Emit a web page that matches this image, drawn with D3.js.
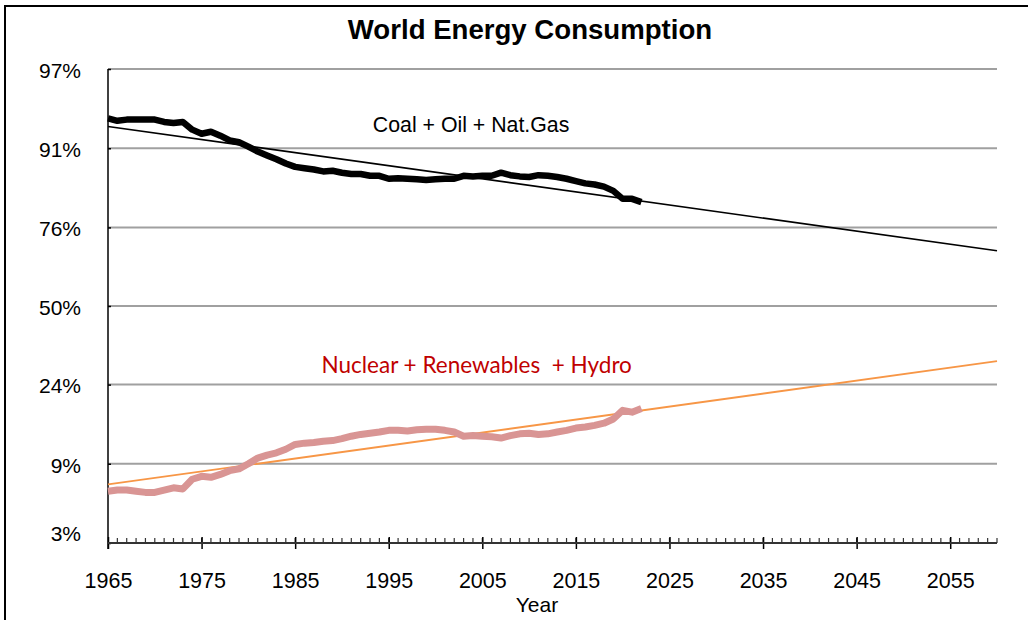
<!DOCTYPE html>
<html>
<head>
<meta charset="utf-8">
<script src="https://cdn.jsdelivr.net/npm/d3@7"></script>
<style>
  body { margin: 0; background: #fff; }
  svg { display: block; }
</style>
</head>
<body>
<script>
// share of world primary energy, percent, 1965..2022
var years = d3.range(1965, 2023);

var fossil = [94.0, 93.8, 93.9, 93.9, 93.9, 93.9, 93.7, 93.6, 93.7, 93.0,
              92.6, 92.8, 92.4, 91.9, 91.7, 91.2, 90.6, 90.1, 89.6, 89.0,
              88.5, 88.3, 88.1, 87.8, 87.9, 87.6, 87.4, 87.4, 87.1, 87.1,
              86.6, 86.7, 86.6, 86.5, 86.4, 86.5, 86.6, 86.6, 87.1, 87.0,
              87.1, 87.1, 87.6, 87.2, 87.0, 86.9, 87.2, 87.1, 86.9, 86.6,
              86.2, 85.8, 85.6, 85.2, 84.4, 82.8, 82.8, 82.1];

var other = [6.2, 6.3, 6.3, 6.2, 6.1, 6.1, 6.3, 6.5, 6.4, 7.3,
             7.6, 7.5, 7.8, 8.2, 8.4, 9.0, 9.7, 10.1, 10.4, 10.9,
             11.6, 11.8, 11.9, 12.1, 12.2, 12.5, 12.9, 13.2, 13.4, 13.6,
             13.9, 13.9, 13.8, 14.0, 14.1, 14.1, 13.9, 13.6, 12.9, 13.0,
             12.9, 12.8, 12.6, 13.0, 13.3, 13.4, 13.2, 13.3, 13.6, 13.9,
             14.3, 14.5, 14.8, 15.2, 16.0, 17.8, 17.4, 18.2];

// trend lines (straight on the logit scale)
var trendYears = [1965, 2060];
var fossilTrend = [93.3, 69.2];
var otherTrend = [6.8, 30.8];

var yTicks = [3, 9, 24, 50, 76, 91, 97];
var yTickLabels = ["3%", "9%", "24%", "50%", "76%", "91%", "97%"];
var xTicks = [1965, 1975, 1985, 1995, 2005, 2015, 2025, 2035, 2045, 2055];

var width = 1028, height = 620;
var font = "'Liberation Sans', Arial, sans-serif";

var logit = function(p) { return Math.log(p / (100 - p)); };

var x = d3.scaleLinear().domain([1965, 2060]).range([108, 997]);
var y = d3.scaleLinear().domain([logit(3), logit(97)]).range([543, 69]);

var svg = d3.select("body").append("svg")
    .attr("width", width)
    .attr("height", height)
    .style("font-family", font);

svg.append("rect")
    .attr("width", width).attr("height", height)
    .attr("fill", "#fff");

// chart frame (runs off the right and bottom edges)
svg.append("rect")
    .attr("x", 5).attr("y", 6)
    .attr("width", 1100).attr("height", 700)
    .attr("fill", "none")
    .attr("stroke", "#000")
    .attr("stroke-width", 2);

// gridlines
svg.append("g")
    .selectAll("line")
    .data(yTicks.slice(1))
    .enter().append("line")
    .attr("x1", x(1965)).attr("x2", x(2060))
    .attr("y1", function(d) { return y(logit(d)); })
    .attr("y2", function(d) { return y(logit(d)); })
    .attr("stroke", "#a0a0a0")
    .attr("stroke-width", 2);

// y axis
var yAxis = svg.append("g")
    .attr("transform", "translate(" + x(1965) + ",0)")
    .call(d3.axisLeft(y)
        .tickValues(yTicks.map(logit))
        .tickFormat(function(d, i) { return yTickLabels[i]; })
        .tickSize(7)
        .tickPadding(20));
yAxis.select(".domain").remove();
yAxis.selectAll(".tick line").attr("x2", 3).attr("stroke", "#000").attr("stroke-width", 1.5);
yAxis.selectAll(".tick text")
    .style("font-size", "21px")
    .style("font-family", font)
    .attr("fill", "#000")
    .attr("dy", function(d, i) { return i === 0 ? "-0.1em" : "0.4em"; });
yAxis.append("line")
    .attr("x1", 0).attr("x2", 0)
    .attr("y1", y(logit(97))).attr("y2", y(logit(3)) + 6)
    .attr("stroke", "#000").attr("stroke-width", 1.5);

// x axis, minor ticks every year
svg.append("g")
    .selectAll("line")
    .data(d3.range(1966, 2061))
    .enter().append("line")
    .attr("x1", function(d) { return x(d); })
    .attr("x2", function(d) { return x(d); })
    .attr("y1", y(logit(3)) - 5)
    .attr("y2", y(logit(3)))
    .attr("stroke", "#333")
    .attr("stroke-width", 1.2);

var xAxis = svg.append("g")
    .attr("transform", "translate(0," + y(logit(3)) + ")")
    .call(d3.axisBottom(x)
        .tickValues(xTicks)
        .tickFormat(d3.format("d"))
        .tickSize(6)
        .tickPadding(24));
xAxis.select(".domain").remove();
xAxis.selectAll(".tick line").attr("y1", -6).attr("stroke", "#000").attr("stroke-width", 1.5);
xAxis.selectAll(".tick text")
    .style("font-size", "21.5px")
    .style("font-family", font)
    .attr("fill", "#000");
xAxis.append("line")
    .attr("x1", x(1965)).attr("x2", x(2060))
    .attr("stroke", "#333").attr("stroke-width", 2);

// trend lines
var trend = d3.line()
    .x(function(d, i) { return x(trendYears[i]); })
    .y(function(d) { return y(logit(d)); });

svg.append("path")
    .attr("d", trend(fossilTrend))
    .attr("fill", "none")
    .attr("stroke", "#000")
    .attr("stroke-width", 1.6);

svg.append("path")
    .attr("d", trend(otherTrend))
    .attr("fill", "none")
    .attr("stroke", "#f79646")
    .attr("stroke-width", 1.8);

// data series
var line = d3.line()
    .x(function(d, i) { return x(years[i]); })
    .y(function(d) { return y(logit(d)); });

svg.append("path")
    .attr("d", line(other))
    .attr("fill", "none")
    .attr("stroke", "#d99594")
    .attr("stroke-width", 7)
    .attr("stroke-linejoin", "round");

svg.append("path")
    .attr("d", line(fossil))
    .attr("fill", "none")
    .attr("stroke", "#000")
    .attr("stroke-width", 6.5)
    .attr("stroke-linejoin", "round");

// labels
svg.append("text")
    .attr("x", x(2003.8)).attr("y", y(logit(92.8)))
    .attr("text-anchor", "middle")
    .style("font-size", "21.3px")
    .text("Coal + Oil + Nat.Gas");

svg.append("text")
    .attr("x", x(2004.4)).attr("y", y(logit(27.2)))
    .attr("text-anchor", "middle")
    .style("font-family", "Lato, 'Open Sans', sans-serif")
    .style("font-size", "22.5px")
    .attr("fill", "#c00000")
    .attr("xml:space", "preserve")
    .text("Nuclear + Renewables  + Hydro");

svg.append("text")
    .attr("x", 530).attr("y", 39)
    .attr("text-anchor", "middle")
    .style("font-size", "27.6px")
    .style("font-weight", "bold")
    .text("World Energy Consumption");

svg.append("text")
    .attr("x", 537).attr("y", 612)
    .attr("text-anchor", "middle")
    .style("font-size", "21px")
    .text("Year");
</script>
</body>
</html>
